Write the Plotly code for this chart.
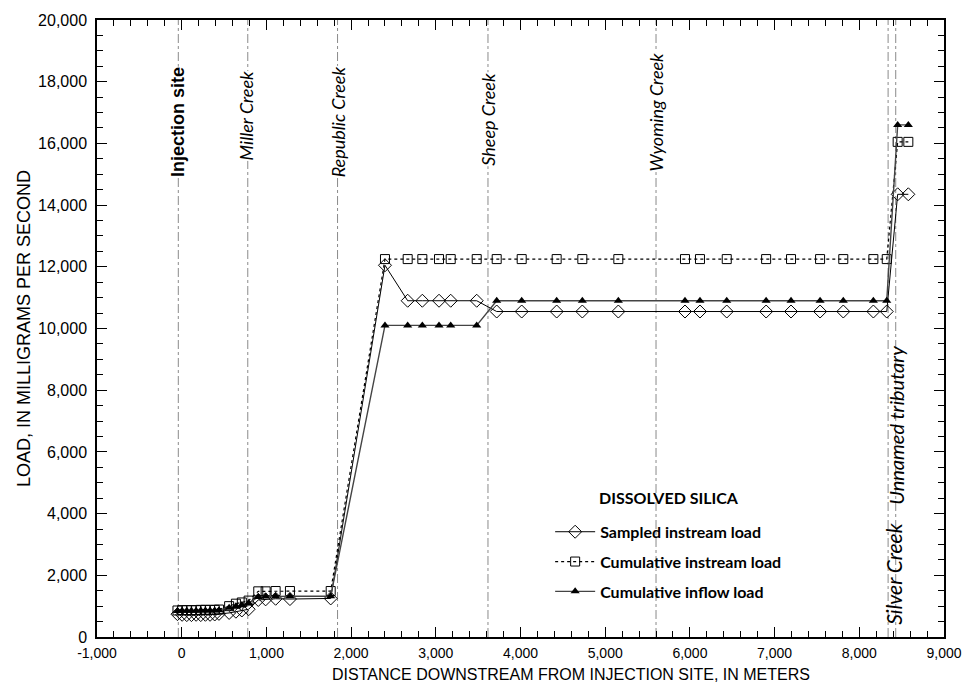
import plotly.graph_objects as go

# ---------------- data ----------------
distance_m = [-50, 5, 60, 115, 170, 225, 280, 335, 390, 440,
              560, 640, 710, 790,
              904, 991, 1109, 1278, 1759,
              2400, 2668, 2841, 3038, 3176, 3483,
              3719, 4014, 4427, 4730, 5155, 5942, 6119, 6435, 6900, 7194, 7537, 7811, 8166, 8324,
              8453, 8579]

sampled_instream = [740, 720, 710, 710, 720, 710, 720, 720, 730, 750,
                    780, 820, 860, 900,
                    1200, 1220, 1240, 1230, 1250,
                    12050, 10900, 10900, 10900, 10900, 10900,
                    10550, 10550, 10550, 10550, 10550, 10550, 10550, 10550, 10550, 10550, 10550, 10550, 10550, 10550,
                    14350, 14350]

cumulative_instream = [860, 870, 870, 870, 870, 880, 880, 880, 880, 890,
                       1000, 1080, 1120, 1180,
                       1480, 1480, 1490, 1490, 1490,
                       12250, 12250, 12250, 12250, 12250, 12250,
                       12250, 12250, 12250, 12250, 12250, 12250, 12250, 12250, 12250, 12250, 12250, 12250, 12250, 12250,
                       16050, 16050]

cumulative_inflow = [840, 850, 850, 850, 850, 860, 860, 860, 860, 870,
                     950, 1000, 1040, 1100,
                     1300, 1310, 1320, 1320, 1320,
                     10100, 10100, 10100, 10100, 10100, 10100,
                     10900, 10900, 10900, 10900, 10900, 10900, 10900, 10900, 10900, 10900, 10900, 10900, 10900, 10900,
                     16600, 16600]

trib_names = ["Injection site", "Miller Creek", "Republic Creek", "Sheep Creek",
              "Wyoming Creek", "Silver Creek", "Unnamed tributary"]
trib_dist = [-40, 780, 1840, 3616, 5600, 8340, 8430]
trib_label_y = [16700, 16900, 16700, 16800, 17000, 2050, 6870]

x_tick_vals = [-1000, 0, 1000, 2000, 3000, 4000, 5000, 6000, 7000, 8000, 9000]
x_tick_text = ["-1,000", "0", "1,000", "2,000", "3,000", "4,000", "5,000",
               "6,000", "7,000", "8,000", "9,000"]
y_tick_vals = [0, 2000, 4000, 6000, 8000, 10000, 12000, 14000, 16000, 18000, 20000]
y_tick_text = ["0", "2,000", "4,000", "6,000", "8,000", "10,000", "12,000",
               "14,000", "16,000", "18,000", "20,000"]

# ---------------- figure ----------------
fig = go.Figure()

fig.add_trace(go.Scatter(
    x=distance_m, y=sampled_instream, name="Sampled instream load",
    legendgroup="a", mode="lines+markers",
    line=dict(color="black", width=1),
    marker=dict(symbol="diamond-open", size=10, color="black", line=dict(width=1))))

fig.add_trace(go.Scatter(
    x=distance_m, y=cumulative_instream, name="Cumulative instream load",
    legendgroup="b", mode="lines+markers",
    line=dict(color="black", width=1.2, dash="dot"),
    marker=dict(symbol="square-open", size=9, color="black", line=dict(width=1))))

fig.add_trace(go.Scatter(
    x=distance_m, y=cumulative_inflow, name="Cumulative inflow load",
    legendgroup="c", mode="lines+markers",
    line=dict(color="#444444", width=1.4),
    marker=dict(symbol="triangle-up", size=8, color="black")))

for name, d, ly in zip(trib_names, trib_dist, trib_label_y):
    fig.add_vline(x=d, line=dict(color="#8a8a8a", width=1, dash="dashdot"), layer="below")
    if name == "Injection site":
        txt = "<b>%s</b>" % name
        fnt = dict(family="Liberation Sans, Arial, sans-serif", size=18, color="black")
        bg = "white"
        xs = -1
    else:
        txt = "<i>%s</i>" % name
        size = 18 if ly > 10000 else (21 if name == "Silver Creek" else 20)
        fnt = dict(family="Lato, sans-serif", size=size, color="black")
        bg = "white" if ly > 10000 else "rgba(0,0,0,0)"
        xs = 0
        if name == "Silver Creek":
            xs = 6
        if name == "Miller Creek":
            xs = -2
    fig.add_annotation(x=d, y=ly, text=txt, textangle=-90, showarrow=False,
                       font=fnt, bgcolor=bg, borderpad=0, xshift=xs,
                       xanchor="center", yanchor="middle")

fig.add_annotation(xref="paper", yref="paper", x=0.590, y=0.226,
                   text="<b>DISSOLVED SILICA</b>", showarrow=False,
                   xanchor="left", yanchor="middle",
                   font=dict(family="Lato, sans-serif", size=16, color="black"))

# x-axis title (placed as in the reference, right of centre)
fig.add_annotation(xref="paper", yref="paper", x=0.56, y=-0.061,
                   text="DISTANCE DOWNSTREAM FROM INJECTION SITE, IN METERS",
                   showarrow=False, xanchor="center", yanchor="middle",
                   font=dict(family="Liberation Sans, Arial, sans-serif", size=16, color="black"))

axis_common = dict(showline=True, linecolor="black", linewidth=1.5, mirror="allticks",
                   ticks="inside", tickcolor="black", showgrid=False, zeroline=False)

fig.update_xaxes(range=[-1000, 9000], tickmode="array", tickvals=x_tick_vals,
                 ticktext=x_tick_text, ticklen=10, tickwidth=1,
                 ticklabelstandoff=2,
                 minor=dict(tickmode="linear", tick0=0, dtick=200, ticks="inside",
                            ticklen=6, tickcolor="black"),
                 tickfont=dict(family="Liberation Sans, Arial, sans-serif", size=14, color="black"),
                 **axis_common)

fig.update_yaxes(range=[0, 20000], tickmode="array", tickvals=y_tick_vals,
                 ticktext=y_tick_text, ticklen=10, tickwidth=1,
                 ticklabelstandoff=5,
                 minor=dict(tickmode="linear", tick0=0, dtick=500, ticks="inside",
                            ticklen=6, tickcolor="black"),
                 tickfont=dict(family="Liberation Sans, Arial, sans-serif", size=16, color="black"),
                 title=dict(text="LOAD, IN MILLIGRAMS PER SECOND",
                            font=dict(family="Liberation Sans, Arial, sans-serif", size=18, color="black"),
                            standoff=3),
                 **axis_common)

fig.update_layout(
    width=976, height=690,
    margin=dict(l=97, r=32, t=17, b=53),
    paper_bgcolor="white", plot_bgcolor="white",
    showlegend=True,
    legend=dict(x=0.535, y=0.198, xanchor="left", yanchor="top",
                bgcolor="rgba(0,0,0,0)", borderwidth=0,
                tracegroupgap=6, itemwidth=40,
                font=dict(family="Lato, sans-serif", size=16, color="black")),
)

# bold legend text
for tr in fig.data:
    tr.name = "<b>%s</b>" % tr.name

fig.write_html("out.html")
